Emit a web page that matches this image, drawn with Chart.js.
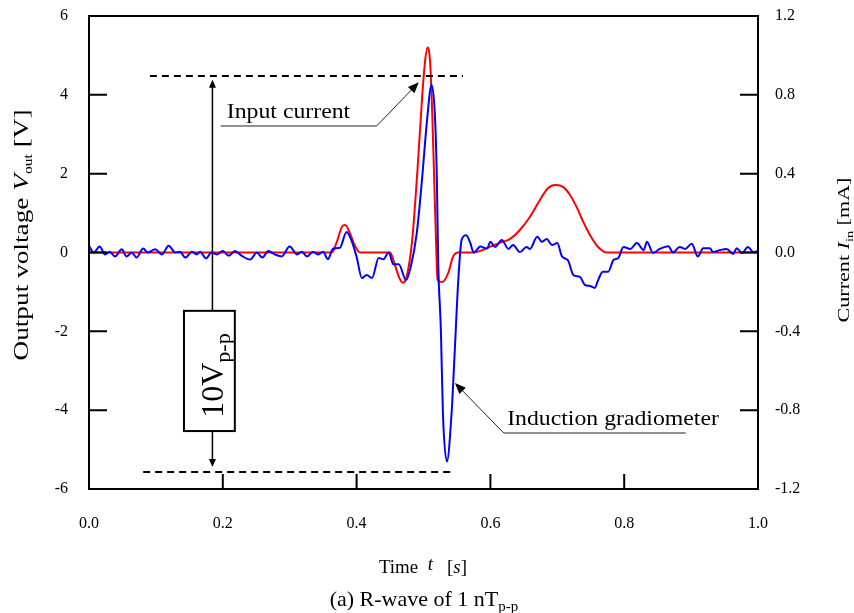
<!DOCTYPE html>
<html lang="en">
<head>
    <meta charset="UTF-8">
    <title>R-wave of 1 nT p-p</title>
    <script src="https://cdn.jsdelivr.net/npm/chart.js"></script>
    <style>
        body { margin: 0; background: #fff; }
    </style>
</head>
<body>
    <canvas id="rwaveChart" width="854" height="613"></canvas>

    <script>
        // Induction gradiometer output [V]
        const blueTime = [0.000, 0.007, 0.016, 0.024, 0.031, 0.039, 0.049, 0.056, 0.064, 0.071,
            0.081, 0.088, 0.099, 0.109, 0.119, 0.129, 0.136, 0.144, 0.154, 0.161,
            0.166, 0.175, 0.183, 0.191, 0.200, 0.209, 0.218, 0.228, 0.241, 0.251,
            0.259, 0.268, 0.278, 0.288, 0.300, 0.311, 0.318, 0.326, 0.335, 0.342,
            0.350, 0.357, 0.365, 0.375, 0.385, 0.392, 0.400, 0.408, 0.415, 0.423,
            0.433, 0.440, 0.448, 0.455, 0.463, 0.474, 0.481, 0.490, 0.498, 0.505,
            0.512, 0.517, 0.520, 0.522, 0.526, 0.529, 0.535, 0.542, 0.547, 0.552,
            0.557, 0.564, 0.570, 0.575, 0.585, 0.595, 0.600, 0.607, 0.617, 0.627,
            0.634, 0.644, 0.654, 0.659, 0.670, 0.677, 0.684, 0.692, 0.700, 0.707,
            0.716, 0.724, 0.734, 0.741, 0.749, 0.756, 0.761, 0.768, 0.776, 0.784,
            0.791, 0.799, 0.809, 0.819, 0.829, 0.834, 0.843, 0.853, 0.866, 0.873,
            0.883, 0.891, 0.901, 0.910, 0.918, 0.928, 0.933, 0.943, 0.953, 0.963,
            0.968, 0.976, 0.985, 0.993, 1.000];
        const blueVolt = [0.17, 0.00, 0.15, -0.05, 0.02, -0.10, 0.08, -0.10, 0.00, -0.13,
            0.10, 0.00, 0.08, -0.05, 0.17, 0.00, 0.02, -0.13, 0.02, -0.05,
            0.02, -0.15, 0.00, -0.05, 0.04, -0.08, 0.04, -0.08, -0.18, 0.00,
            -0.13, 0.04, -0.05, -0.10, 0.15, -0.05, 0.02, -0.10, 0.02, -0.05,
            0.02, -0.17, 0.10, 0.12, 0.52, 0.32, -0.11, -0.65, -0.57, -0.65,
            -0.14, -0.17, 0.00, -0.30, -0.30, -0.70, -0.36, 0.50, 1.90, 3.30,
            4.25, 3.50, 1.85, -0.27, -1.97, -4.07, -5.30, -4.07, -2.40, -0.70,
            0.32, 0.44, 0.24, 0.00, 0.15, 0.10, 0.27, 0.14, 0.32, 0.09,
            0.19, 0.01, 0.14, 0.09, 0.40, 0.27, 0.34, 0.19, 0.24, -0.10,
            -0.20, -0.57, -0.62, -0.82, -0.85, -0.90, -0.70, -0.49, -0.49, -0.19,
            -0.14, 0.14, 0.09, 0.24, 0.06, 0.27, -0.01, 0.09, 0.16, 0.00,
            0.14, 0.09, 0.22, -0.10, 0.11, 0.11, 0.01, 0.06, 0.09, -0.04,
            0.11, -0.01, 0.14, 0.01, 0.04];

        // Input current [mA]
        const redTime = [0.000, 0.100, 0.200, 0.300, 0.363, 0.370, 0.378, 0.383, 0.390, 0.397,
            0.405, 0.450, 0.457, 0.464, 0.469, 0.475, 0.483, 0.491, 0.498, 0.502,
            0.506, 0.510, 0.513, 0.516, 0.519, 0.521, 0.528, 0.537, 0.544, 0.552,
            0.575, 0.585, 0.600, 0.615, 0.629, 0.644, 0.659, 0.674, 0.686, 0.697,
            0.709, 0.719, 0.729, 0.739, 0.749, 0.761, 0.774, 0.900, 1.000];
        const redCurrent = [0, 0, 0, 0, 0, 0.05, 0.13, 0.14, 0.098, 0.038,
            0, 0, -0.06, -0.13, -0.154, -0.12, 0.06, 0.42, 0.79, 0.96,
            1.04, 0.96, 0.71, 0.37, 0.028, -0.14, -0.15, -0.104, -0.022, 0,
            0, 0.008, 0.03, 0.05, 0.068, 0.114, 0.18, 0.266, 0.326, 0.342,
            0.332, 0.292, 0.23, 0.154, 0.088, 0.028, 0, 0, 0];

        const timeTicks = [0.0, 0.2, 0.4, 0.6, 0.8, 1.0];
        const voltTicks = [-6, -4, -2, 0, 2, 4, 6];
        const currentTicks = [-1.2, -0.8, -0.4, 0.0, 0.4, 0.8, 1.2];

        const serif = '"Liberation Serif", "Times New Roman", serif';

        // draws a row of text pieces (for italics and subscripts)
        function drawRuns(ctx, parts, x, y, rot, sx, align) {
            ctx.save();
            ctx.translate(x, y);
            ctx.rotate(rot);
            ctx.scale(sx, 1);
            ctx.textBaseline = 'alphabetic';
            ctx.textAlign = 'left';
            let w = 0;
            parts.forEach(p => {
                ctx.font = (p.i ? 'italic ' : '') + p.s + 'px ' + serif;
                p.w = ctx.measureText(p.t).width;
                w += p.w;
            });
            let cx = align === 'left' ? 0 : -w / 2;
            parts.forEach(p => {
                ctx.font = (p.i ? 'italic ' : '') + p.s + 'px ' + serif;
                ctx.fillText(p.t, cx, p.dy || 0);
                cx += p.w;
            });
            ctx.restore();
        }

        function arrow(ctx, x1, y1, x2, y2, len, half) {
            const a = Math.atan2(y2 - y1, x2 - x1);
            const c = Math.cos(a), s = Math.sin(a);
            ctx.beginPath();
            ctx.moveTo(x1, y1);
            ctx.lineTo(x2 - c * len * 0.7, y2 - s * len * 0.7);
            ctx.stroke();
            ctx.beginPath();
            ctx.moveTo(x2, y2);
            ctx.lineTo(x2 - len * c + half * s, y2 - len * s - half * c);
            ctx.lineTo(x2 - len * c - half * s, y2 - len * s + half * c);
            ctx.closePath();
            ctx.fill();
        }

        const decoPlugin = {
            id: 'deco',
            afterDraw(chart) {
                const ctx = chart.ctx;
                const area = chart.chartArea;
                const xs = chart.scales.x, ys = chart.scales.y, ys1 = chart.scales.y1;
                const X = v => xs.getPixelForValue(v);
                const Y = v => ys.getPixelForValue(v);

                ctx.save();
                ctx.strokeStyle = '#000';
                ctx.fillStyle = '#000';

                // frame
                ctx.lineWidth = 2;
                ctx.strokeRect(area.left, area.top, area.right - area.left, area.bottom - area.top);

                // inward tick marks
                ctx.beginPath();
                voltTicks.slice(1, -1).forEach(v => {
                    ctx.moveTo(area.left, Y(v)); ctx.lineTo(area.left + 18, Y(v));
                });
                currentTicks.slice(1, -1).forEach(v => {
                    const p = ys1.getPixelForValue(v);
                    ctx.moveTo(area.right, p); ctx.lineTo(area.right - 18, p);
                });
                timeTicks.slice(1, -1).forEach(v => {
                    ctx.moveTo(X(v), area.bottom); ctx.lineTo(X(v), area.bottom - 15);
                });
                ctx.stroke();

                // dashed reference lines
                ctx.lineWidth = 2;
                ctx.setLineDash([7, 5]);
                ctx.beginPath();
                ctx.moveTo(X(0.091), Y(4.48)); ctx.lineTo(X(0.559), Y(4.48));
                ctx.moveTo(X(0.081), Y(-5.57)); ctx.lineTo(X(0.547), Y(-5.57));
                ctx.stroke();
                ctx.setLineDash([]);

                // 10 Vp-p double arrow and box
                ctx.lineWidth = 1.5;
                const ax = X(0.1845);
                arrow(ctx, ax, Y(-1.48), ax, Y(4.38), 8, 3.5);
                arrow(ctx, ax, Y(-4.53), ax, Y(-5.44), 8, 3.5);
                ctx.lineWidth = 2;
                ctx.fillStyle = '#fff';
                ctx.fillRect(X(0.142), Y(-1.48), X(0.218) - X(0.142), Y(-4.53) - Y(-1.48));
                ctx.strokeRect(X(0.142), Y(-1.48), X(0.218) - X(0.142), Y(-4.53) - Y(-1.48));
                ctx.fillStyle = '#000';
                ctx.save();
                ctx.translate(X(0.18), Y(-3.0));
                ctx.rotate(-Math.PI / 2);
                drawRuns(ctx, [
                    { t: '10V', s: 32 },
                    { t: 'p-p', s: 22, dy: 7 }
                ], -47, 13.5, 0, 1, 'left');
                ctx.restore();

                // callouts
                ctx.lineWidth = 1;
                ctx.strokeStyle = '#222';
                ctx.fillStyle = '#000';
                ctx.beginPath();
                ctx.moveTo(X(0.197), Y(3.21)); ctx.lineTo(X(0.430), Y(3.21));
                ctx.stroke();
                arrow(ctx, X(0.430), Y(3.21), X(0.493), Y(4.32), 11, 4.5);
                drawRuns(ctx, [{ t: 'Input current', s: 22 }], X(0.206), Y(3.41), 0, 1.08, 'left');

                ctx.beginPath();
                ctx.moveTo(X(0.620), Y(-4.58)); ctx.lineTo(X(0.892), Y(-4.58));
                ctx.stroke();
                arrow(ctx, X(0.620), Y(-4.58), X(0.547), Y(-3.31), 11, 4.5);
                drawRuns(ctx, [{ t: 'Induction gradiometer', s: 22 }], X(0.625), Y(-4.375), 0, 1.08, 'left');

                // axis titles
                drawRuns(ctx, [
                    { t: 'Output voltage ', s: 21 },
                    { t: 'V', s: 21, i: true },
                    { t: 'out', s: 12, dy: 4 },
                    { t: ' [V]', s: 21 }
                ], 28, 235, -Math.PI / 2, 1.3, 'center');
                drawRuns(ctx, [
                    { t: 'Current ', s: 17 },
                    { t: 'I', s: 17, i: true },
                    { t: 'in', s: 11, dy: 4 },
                    { t: ' [mA]', s: 17 }
                ], 849, 250, -Math.PI / 2, 1.3, 'center');
                drawRuns(ctx, [
                    { t: 'Time  ', s: 18 },
                    { t: 't', s: 18, i: true, dy: -3 },
                    { t: '   [', s: 18 },
                    { t: 's', s: 18, i: true },
                    { t: ']', s: 18 }
                ], 423, 573, 0, 1.05, 'center');
                drawRuns(ctx, [
                    { t: '(a) R-wave of 1 nT', s: 22 },
                    { t: 'p-p', s: 15, dy: 5 }
                ], 424, 606, 0, 1.0, 'center');

                ctx.restore();
            }
        };

        const tickFont = { family: serif, size: 16 };

        // fixed box sizes so the plot area sits where the picture has it
        function fitVertical(width) {
            return s => {
                s.width = width;
                s.paddingTop = 0;
                s.paddingBottom = 0;
            };
        }

        const rwaveChart = new Chart(document.getElementById('rwaveChart'), {
            type: 'line',
            data: {
                datasets: [{
                    label: 'Induction gradiometer',
                    data: blueTime.map((t, i) => ({ x: t, y: blueVolt[i] })),
                    borderColor: '#0000ff',
                    borderWidth: 2,
                    pointRadius: 0,
                    cubicInterpolationMode: 'monotone',
                    yAxisID: 'y'
                }, {
                    label: 'Input current',
                    data: redTime.map((t, i) => ({ x: t, y: redCurrent[i] })),
                    borderColor: '#ff0000',
                    borderWidth: 2,
                    pointRadius: 0,
                    cubicInterpolationMode: 'monotone',
                    yAxisID: 'y1'
                }]
            },
            options: {
                responsive: false,
                animation: false,
                devicePixelRatio: 1,
                layout: { padding: { top: 16, left: 0, right: 0, bottom: 0 } },
                plugins: {
                    legend: { display: false },
                    tooltip: { enabled: false }
                },
                scales: {
                    x: {
                        type: 'linear',
                        min: 0,
                        max: 1,
                        afterBuildTicks: s => { s.ticks = timeTicks.map(v => ({ value: v })); },
                        afterFit: s => { s.height = 124; s.paddingLeft = 0; s.paddingRight = 0; },
                        ticks: {
                            font: tickFont, color: '#000', padding: 25, maxRotation: 0,
                            autoSkip: false,
                            callback: v => v.toFixed(1)
                        },
                        grid: { drawOnChartArea: false, drawTicks: false },
                        border: { color: '#000', width: 2 }
                    },
                    y: {
                        position: 'left',
                        min: -6,
                        max: 6,
                        afterBuildTicks: s => { s.ticks = voltTicks.map(v => ({ value: v })); },
                        afterFit: fitVertical(89),
                        ticks: { font: tickFont, color: '#000', padding: 21, autoSkip: false },
                        grid: { drawOnChartArea: false, drawTicks: false },
                        border: { color: '#000', width: 2 }
                    },
                    y1: {
                        position: 'right',
                        min: -1.2,
                        max: 1.2,
                        afterBuildTicks: s => { s.ticks = currentTicks.map(v => ({ value: v })); },
                        afterFit: fitVertical(96),
                        ticks: {
                            font: tickFont, color: '#000', padding: 17, autoSkip: false,
                            callback: v => v.toFixed(1)
                        },
                        grid: { drawOnChartArea: false, drawTicks: false },
                        border: { color: '#000', width: 2 }
                    }
                }
            },
            plugins: [decoPlugin]
        });
    </script>
</body>
</html>
